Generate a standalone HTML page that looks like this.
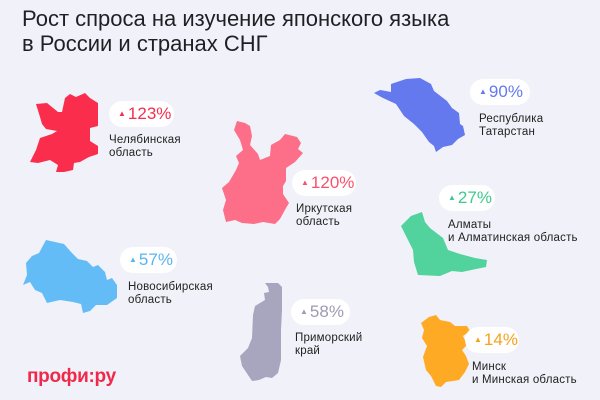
<!DOCTYPE html>
<html><head><meta charset="utf-8"><style>
body{margin:0;width:600px;height:400px;background:#f1f1f9;font-family:"Liberation Sans",sans-serif;position:relative;overflow:hidden}
.t{position:absolute;left:22px;top:6px;font-size:22px;line-height:25px;color:#1f1f24}
.p{position:absolute;height:26px;border-radius:13px;background:#fff;font-size:17px;line-height:26px;box-sizing:border-box;padding-left:9px;white-space:nowrap}
.p b{font-weight:normal;font-size:8px;vertical-align:3px;margin-right:2px}
.l{position:absolute;font-size:11.5px;line-height:12.5px;color:#222;letter-spacing:0.2px}
svg{position:absolute;left:0;top:0}
.logo{position:absolute;left:27px;top:366px;font-size:19px;font-weight:bold;color:#f0294a;letter-spacing:-0.3px}
</style></head><body>
<div class="t">Рост спроса на изучение японского языка<br>в России и странах СНГ</div>
<svg width="600" height="400">
<polygon fill="#fb2d4c" points="36,104 47,103 58,112 62,112 65,98 70,94 76,97 85,93 90,98 98,103 98,126 90,128 90,141 98,146 98,154 89,157 80,162 74,163 73,170 64,172 56,172 58,165 50,160 38,163 30,162 36,150 40,138 52,134 57,131 46,129 42,124 40,117"/>
<polygon fill="#fd6e88" points="237,121 245,123 250,126 252,136 250,145 258,154 260,160 270,156 271,145 280,140 285,134 297,137 301,143 298,149 303,153 295,162 286,168 286,181 283,186 283,194 289,203 286,208 280,219 275,224 263,222 254,224 242,223 235,220 226,222 223,210 226,200 222,188 229,182 236,170 239,163 236,156 243,150 240,140 234,130"/>
<polygon fill="#6479ee" points="374,93 380,90 391,92 391,84 406,79 420,78 431,84 434,91 447,101 452,108 459,113 460,124 463,126 465,135 458,139 452,145 443,147 436,152 434,146 429,142 422,132 414,124 404,116 396,104 383,98"/>
<polygon fill="#52d29c" points="411,216 422,212 425,222 430,228 443,238 448,250 460,254 475,258 487,260 486,267 476,269 462,272 452,271 440,276 418,275 414,262 413,250 407,238 401,226"/>
<polygon fill="#64bcf7" points="46,240 55,242 64,244 72,253 78,259 87,261 93,267 98,265 105,272 107,280 112,278 117,285 117,298 107,305 96,305 90,311 83,313 81,304 73,302 60,300 47,303 42,293 35,290 30,282 23,285 27,275 26,263 32,256 39,253"/>
<polygon fill="#a8a5bf" points="265,283 278,283 282,287 282,310 281,330 281,360 278,373 272,378 266,377 259,380 252,381 242,366 240,356 248,348 252,338 253,315 255,306 260,303 265,300 264,293 269,292 268,287"/>
<polygon fill="#ffaa25" points="429,317 436,315 440,320 450,322 455,326 467,326 470,331 463,336 467,345 462,350 466,356 469,364 465,372 459,380 453,381 446,382 441,387 436,386 431,376 426,370 423,357 427,346 422,338 424,330 421,323"/>
</svg>
<div class="p" style="left:109px;top:101px;width:65px;color:#f52d4e"><b>▲</b>123%</div>
<div class="l" style="left:109px;top:134px">Челябинская<br>область</div>
<div class="p" style="left:292px;top:170px;width:64px;color:#f7516d"><b>▲</b>120%</div>
<div class="l" style="left:296px;top:203px">Иркутская<br>область</div>
<div class="p" style="left:470px;top:79px;width:60px;color:#6479ee"><b>▲</b>90%</div>
<div class="l" style="left:479px;top:113px">Республика<br>Татарстан</div>
<div class="p" style="left:439px;top:185px;width:56px;color:#3fc98e"><b>▲</b>27%</div>
<div class="l" style="left:448px;top:219px">Алматы<br>и Алматинская область</div>
<div class="p" style="left:120px;top:247px;width:57px;color:#5ab4ef"><b>▲</b>57%</div>
<div class="l" style="left:128px;top:281px">Новосибирская<br>область</div>
<div class="p" style="left:291px;top:299px;width:59px;color:#9e9bb2"><b>▲</b>58%</div>
<div class="l" style="left:295px;top:332px">Приморский<br>край</div>
<div class="p" style="left:465px;top:327px;width:54px;color:#f5a21c"><b>▲</b>14%</div>
<div class="l" style="left:472px;top:361px">Минск<br>и Минская область</div>
<div class="logo">профи:ру</div>
</body></html>
